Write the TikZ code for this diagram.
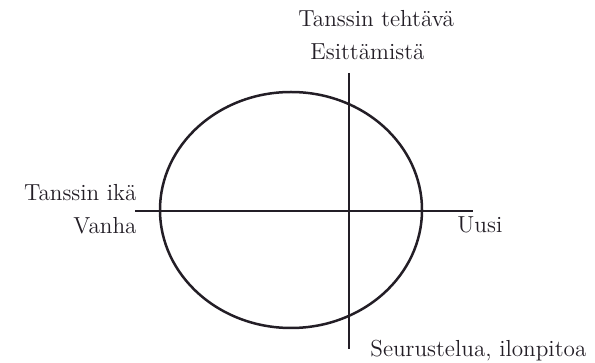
\documentclass[tikz,border=0pt]{standalone}
\usetikzlibrary{shapes.geometric}
\definecolor{ink}{RGB}{35,30,38}
\begin{document}
\begin{tikzpicture}[x=0.5pt,y=-0.5pt,
  axis/.style={draw=ink,line width=1.25pt},
  lbl/.style={inner sep=0pt,text=ink,font=\fontsize{11.6}{13}\selectfont}]
\useasboundingbox (0,0) rectangle (595,363);
% ellipse
\node[ellipse,draw=ink,line width=1.25pt,minimum width=131pt,minimum height=118pt,inner sep=0pt] (ell) at (291,210) {};
% axes end points
\coordinate (hL) at (135,211);
\coordinate (hR) at (473,211);
\coordinate (vT) at (349,73);
\coordinate (vB) at (349,349);
\draw[axis] (hL) -- (hR);
\draw[axis] (vT) -- (vB);
% labels
\node[lbl,anchor=base west] (tt) at (298,27) {Tanssin tehtävä};
\node[lbl,anchor=base west] (es) at (310,60) {Esittämistä};
\node[lbl,anchor=base east] (ti) at (137,201) {Tanssin ikä};
\node[lbl,anchor=base east] (va) at (137,234) {Vanha};
\node[lbl,anchor=base west] (uu) at (457,233) {Uusi};
\node[lbl,anchor=base west] (se) at (370,357) {Seurustelua, ilonpitoa};
\end{tikzpicture}
\end{document}
